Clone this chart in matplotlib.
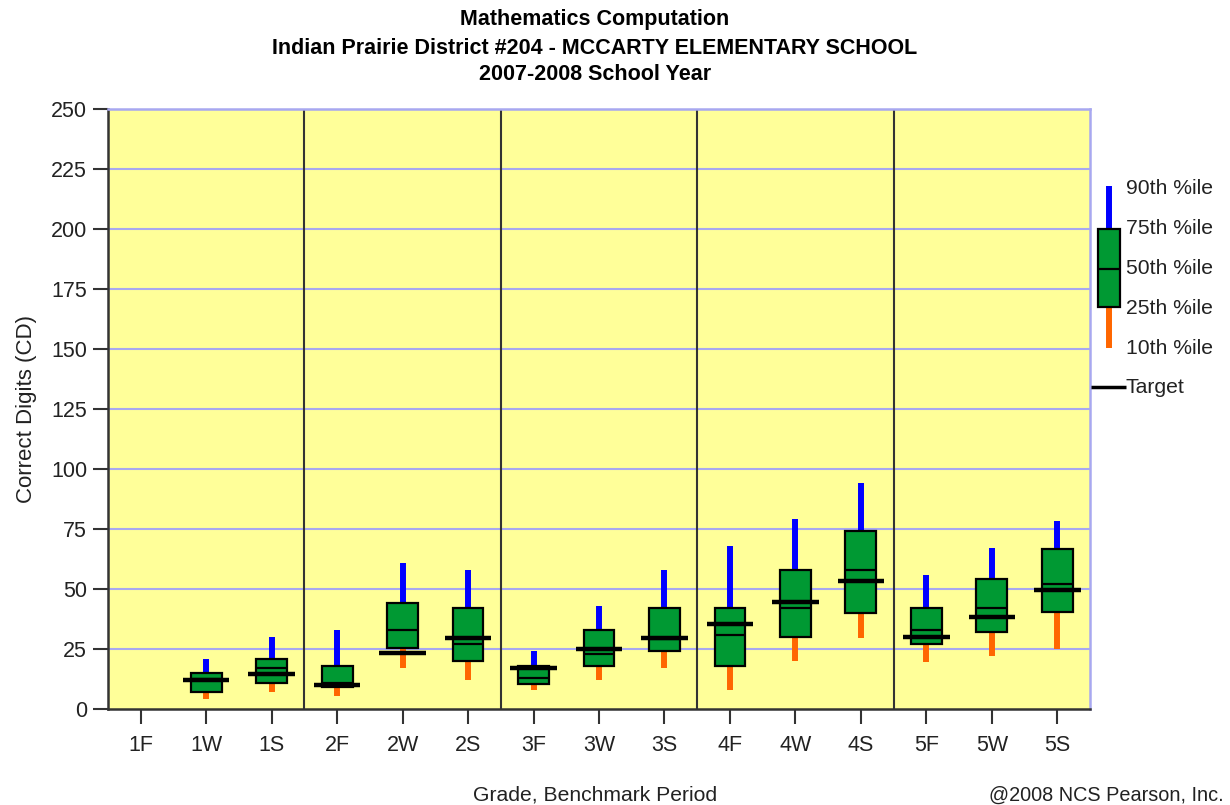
import numpy as np
from matplotlib import pyplot as plt

plt.rcParams['font.family'] = ['Liberation Sans', 'DejaVu Sans']

# data (1F has no data)
periods = ['1F', '1W', '1S', '2F', '2W', '2S', '3F', '3W', '3S',
           '4F', '4W', '4S', '5F', '5W', '5S']
p90 = [np.nan, 21, 30, 33, 61, 58, 24, 43, 58, 68, 79, 94, 56, 67, 78.5]
p75 = [np.nan, 15, 21, 18, 44, 42, 18, 33, 42, 42, 58, 74, 42, 54, 66.5]
p50 = [np.nan, 12.5, 17, 11, 33, 27, 13, 23, 29, 31, 42, 58, 33, 42, 52]
p25 = [np.nan, 7, 11, 9, 25.5, 20, 10.5, 18, 24, 18, 30, 40, 27, 32, 40.5]
p10 = [np.nan, 4, 7, 5.5, 17, 12, 8, 12, 17, 8, 20, 29.5, 19.5, 22, 25]
target = [np.nan, 12, 14.5, 10, 23.5, 29.5, 17, 25, 29.5, 35.5, 44.5, 53.5,
          30, 38.5, 49.5]
yticks = [0, 25, 50, 75, 100, 125, 150, 175, 200, 225, 250]

bg = '#ffff99'
green = '#009933'
blue = '#0000ff'
orange = '#ff6600'
grid_col = '#a8a8f0'

W, H = 1230, 805
fig = plt.figure(figsize=(W / 100, H / 100), dpi=100)
fig.patch.set_facecolor('white')

left, right, top, bottom = 108, 1090, 109, 709
ax = fig.add_axes([left / W, 1 - bottom / H, (right - left) / W, (bottom - top) / H])
ax.set_facecolor(bg)

x = np.arange(len(periods))
p90 = np.array(p90); p75 = np.array(p75); p50 = np.array(p50)
p25 = np.array(p25); p10 = np.array(p10); target = np.array(target)

# grid lines
for v in yticks[1:]:
    ax.axhline(v, color=grid_col, lw=1.5, zorder=1)
# grade separators
for s in [2.5, 5.5, 8.5, 11.5]:
    ax.axvline(s, color='#333333', lw=1.5, zorder=2)

box_w = 0.47
tgt_w = 0.71
ax.vlines(x, p75, p90, color=blue, lw=4.3, zorder=3)
ax.vlines(x, p10, p25, color=orange, lw=4.3, zorder=3)
ax.bar(x, p75 - p25, bottom=p25, width=box_w, color=green,
       edgecolor='black', linewidth=1.6, zorder=4)
ax.hlines(p50, x - box_w / 2, x + box_w / 2, color='black', lw=1.6, zorder=5)
ax.hlines(target, x - tgt_w / 2, x + tgt_w / 2, color='black', lw=3.2, zorder=6)

ax.set_xlim(-0.5, 14.5)
ax.set_ylim(0, 250)
ax.set_xticks(x)
ax.set_xticklabels(periods)
ax.set_yticks(yticks)
ax.tick_params(axis='both', length=11, width=1.5, color='#333333',
               labelsize=15.5, labelcolor='#222222', pad=4)
ax.tick_params(axis='x', pad=8)
for side in ['left', 'bottom']:
    ax.spines[side].set_color('#333333')
    ax.spines[side].set_linewidth(1.8)
for side in ['top', 'right']:
    ax.spines[side].set_color(grid_col)
    ax.spines[side].set_linewidth(1.8)

ax.set_ylabel('Correct Digits (CD)', fontsize=16, color='#222222', labelpad=10)

# titles
fig.text(595 / W, 1 - 20 / H, 'Mathematics Computation', ha='center', va='center',
         fontsize=15.5, fontweight='bold')
fig.text(595 / W, 1 - 48 / H, 'Indian Prairie District #204 - MCCARTY ELEMENTARY SCHOOL',
         ha='center', va='center', fontsize=15.5, fontweight='bold')
fig.text(595 / W, 1 - 75 / H, '2007-2008 School Year', ha='center', va='center',
         fontsize=15.5, fontweight='bold')
fig.text(595 / W, 1 - 795 / H, 'Grade, Benchmark Period', ha='center', va='center',
         fontsize=15.2, color='#222222')
fig.text(1224 / W, 1 - 795 / H, '@2008 NCS Pearson, Inc.', ha='right', va='center',
         fontsize=14.3, color='#222222')

# legend drawn on its own axes sharing the y scale
lg = fig.add_axes([right / W, 1 - bottom / H, (W - right) / W, (bottom - top) / H])
lg.set_xlim(right, W)
lg.set_ylim(0, 250)
lg.axis('off')
lx = 1109
lg.vlines(lx, 200, 218, color=blue, lw=4.3)
lg.vlines(lx, 150.5, 167.5, color=orange, lw=4.3)
lg.bar(lx, 200 - 167.5, bottom=167.5, width=22, color=green, edgecolor='black',
       linewidth=1.6, zorder=3)
lg.hlines(183.5, lx - 11, lx + 11, color='black', lw=1.6, zorder=4)
lg.hlines(134, 1091, 1126, color='black', lw=2.5)
for txt, yv in [('90th %ile', 217), ('75th %ile', 200), ('50th %ile', 183.5),
                ('25th %ile', 167), ('10th %ile', 150), ('Target', 134)]:
    lg.text(1126, yv, txt, ha='left', va='center', fontsize=15.2, color='#222222')

fig.savefig('out.png', dpi=100)
